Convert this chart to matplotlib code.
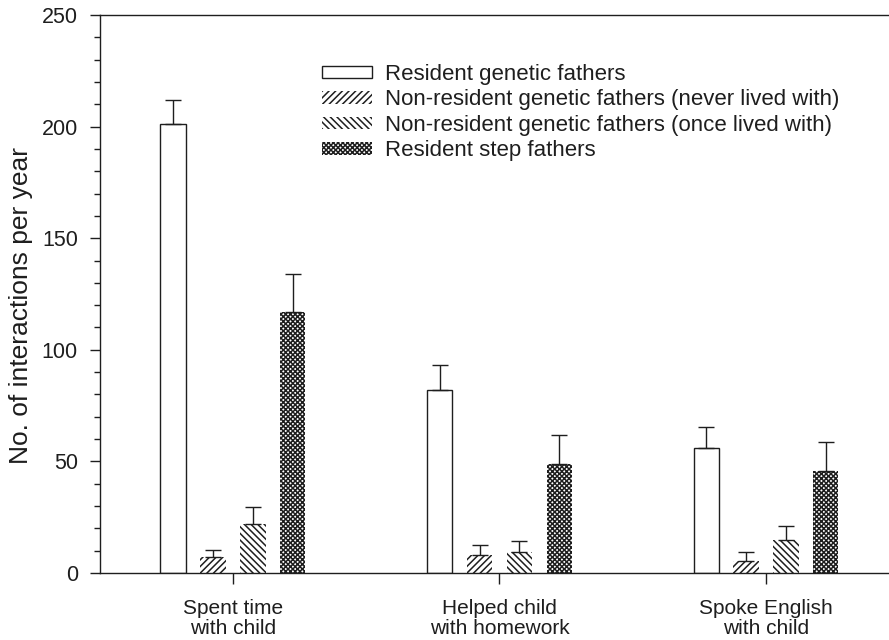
import numpy as np
import matplotlib
matplotlib.use('Agg')
import matplotlib.pyplot as plt
from matplotlib.ticker import MultipleLocator

plt.rcParams['font.family'] = ['Liberation Sans', 'DejaVu Sans']
plt.rcParams['hatch.linewidth'] = 1.1

# data
activities = ['Spent time\nwith child', 'Helped child\nwith homework', 'Spoke English\nwith child']
groups = ['Resident genetic fathers',
          'Non-resident genetic fathers (never lived with)',
          'Non-resident genetic fathers (once lived with)',
          'Resident step fathers']
resident_genetic = [201, 82, 56]
resident_genetic_err = [11, 11, 9.5]
nonres_never = [7, 8, 5.5]
nonres_never_err = [3.3, 4.5, 3.7]
nonres_once = [22, 9.5, 15]
nonres_once_err = [7.5, 5, 6]
step_fathers = [117, 49, 45.5]
step_fathers_err = [17, 13, 13]

values = [resident_genetic, nonres_never, nonres_once, step_fathers]
errors = [resident_genetic_err, nonres_never_err, nonres_once_err, step_fathers_err]
hatches = ['', '/////', '\\\\\\\\\\', 'xxxxxxx']
offsets = [-0.225, -0.075, 0.075, 0.225]

ink = '#1e1e1e'

fig = plt.figure(figsize=(8.89, 6.4), dpi=100)
ax = fig.add_axes([100 / 889, 1 - 573 / 640, 789 / 889, 558 / 640])

x = np.arange(len(activities))
width = 0.094
for vals, errs, h, off, lab in zip(values, errors, hatches, offsets, groups):
    if h == '':
        ax.bar(x + off, vals, width, color='white', edgecolor=ink, linewidth=1.0, label=lab)
    else:
        ax.bar(x + off, vals, width, color='white', edgecolor=ink, linewidth=0, hatch=h, label=lab)
    ax.errorbar(x + off, vals, yerr=[np.zeros(len(vals)), errs], fmt='none',
                ecolor=ink, elinewidth=1.0, capsize=5.8, capthick=1.0)

ax.set_xlim(-0.499, 2.4615)
ax.set_ylim(0, 250)
ax.set_xticks(x)
ax.set_xticklabels(activities, fontsize=15, color=ink, linespacing=1.1)
ax.yaxis.set_major_locator(MultipleLocator(50))
ax.yaxis.set_minor_locator(MultipleLocator(10))
ax.tick_params(axis='y', which='major', length=7, width=1, pad=9, labelsize=15.5, colors=ink)
ax.tick_params(axis='y', which='minor', length=4, width=1, colors=ink)
ax.tick_params(axis='x', length=8, width=1, pad=10.5, colors=ink)
ax.set_ylabel('No. of interactions per year', fontsize=19, color=ink)
ax.yaxis.set_label_coords(-0.085, 0.48)

ax.spines['right'].set_visible(False)
for s in ['left', 'top', 'bottom']:
    ax.spines[s].set_color(ink)
    ax.spines[s].set_linewidth(1.0)

leg = ax.legend(loc='upper left', bbox_to_anchor=(322 / 889, 1 - 64 / 640),
                bbox_transform=fig.transFigure, frameon=False, fontsize=16,
                handlelength=2.25, handleheight=0.5, handletextpad=0.6,
                labelspacing=0.2, borderpad=0, borderaxespad=0)
for t in leg.get_texts():
    t.set_color(ink)

fig.savefig('out.png', dpi=100)
